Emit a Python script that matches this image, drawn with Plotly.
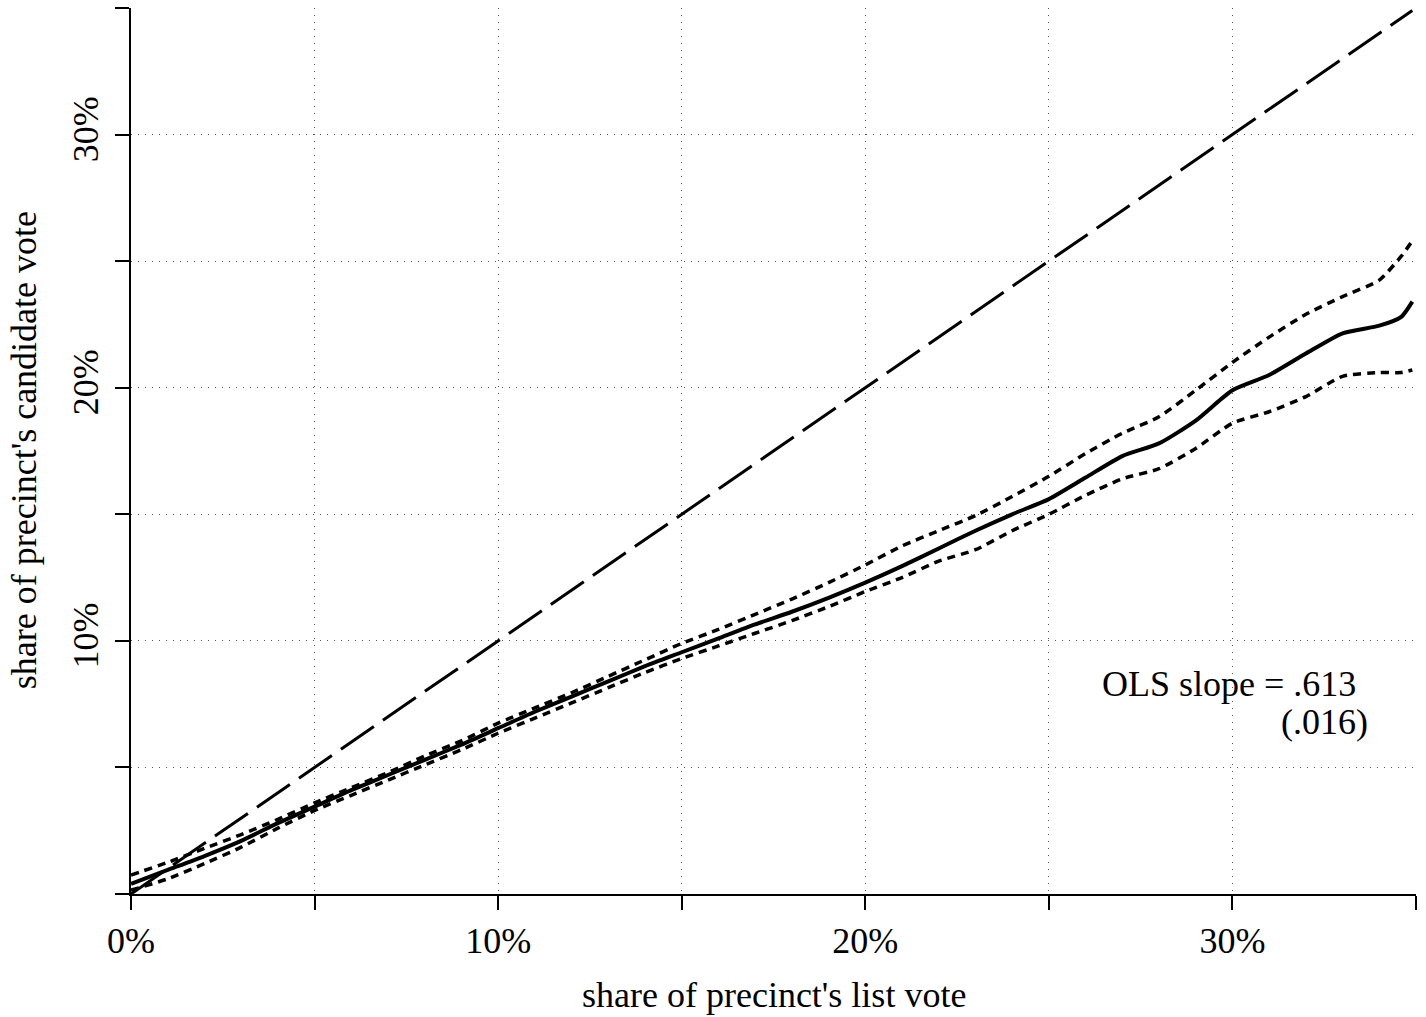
import plotly.graph_objects as go

# ---- data (percent units) ----
fit_x = [0, 1, 2, 3, 4, 5, 6, 7, 8, 9, 10, 11, 12, 13, 14, 15, 16, 17, 18, 19, 20,
         21, 22, 23, 24, 25, 26, 27, 28, 29, 30, 31, 32, 33, 34, 34.6, 34.9]
fit_y = [0.4, 0.95, 1.5, 2.1, 2.8, 3.45, 4.1, 4.7, 5.3, 5.9, 6.55, 7.2, 7.8, 8.4, 9.0,
         9.55, 10.1, 10.65, 11.15, 11.7, 12.3, 12.95, 13.65, 14.35, 15.0, 15.6, 16.45,
         17.3, 17.8, 18.7, 19.9, 20.5, 21.35, 22.15, 22.45, 22.8, 23.4]
upper_y = [0.75, 1.25, 1.8, 2.35, 2.95, 3.6, 4.2, 4.8, 5.45, 6.05, 6.75, 7.35, 7.95, 8.6,
           9.25, 9.9, 10.45, 11.05, 11.65, 12.3, 13.0, 13.75, 14.35, 14.95, 15.7, 16.5,
           17.4, 18.2, 18.85, 19.9, 21.0, 22.0, 22.9, 23.6, 24.25, 25.2, 25.8]
lower_y = [0.15, 0.6, 1.2, 1.85, 2.6, 3.3, 3.9, 4.5, 5.1, 5.7, 6.35, 6.95, 7.55, 8.15,
           8.75, 9.3, 9.8, 10.3, 10.8, 11.35, 11.95, 12.5, 13.15, 13.6, 14.35, 15.0,
           15.75, 16.4, 16.8, 17.6, 18.6, 19.05, 19.65, 20.45, 20.6, 20.6, 20.7]
diag_x = [0, 34.9]
diag_y = [0, 34.9]

tick_vals = [0, 5, 10, 15, 20, 25, 30, 35]
x_tick_text = ["0%", "", "10%", "", "20%", "", "30%", ""]
y_tick_text = ["", "", "10%", "", "20%", "", "30%", ""]

ols_text = "OLS slope = .613"
se_text = "(.016)"

FONT = "Liberation Serif, Times New Roman, serif"

fig = go.Figure()
fig.add_trace(go.Scatter(x=diag_x, y=diag_y, mode="lines",
                         line=dict(color="black", width=3, dash="40px,11px"),
                         hoverinfo="skip"))
fig.add_trace(go.Scatter(x=fit_x, y=upper_y, mode="lines",
                         line=dict(color="black", width=3.5, dash="8px,6px", shape="spline", smoothing=0.6)))
fig.add_trace(go.Scatter(x=fit_x, y=lower_y, mode="lines",
                         line=dict(color="black", width=3.5, dash="8px,6px", shape="spline", smoothing=0.6)))
fig.add_trace(go.Scatter(x=fit_x, y=fit_y, mode="lines",
                         line=dict(color="black", width=4, shape="spline", smoothing=0.6)))

axis_common = dict(
    range=[0, 35], tickmode="array", tickvals=tick_vals,
    showline=True, linecolor="black", linewidth=2,
    ticks="outside", ticklen=14, tickwidth=2, tickcolor="black",
    showgrid=True, gridcolor="#555555", gridwidth=1, griddash="1px,6px",
    zeroline=False, tickfont=dict(family=FONT, size=36, color="black"),
)
fig.update_xaxes(**axis_common, ticktext=x_tick_text, ticklabelstandoff=0)
fig.update_yaxes(**axis_common, ticktext=y_tick_text, tickangle=-90, ticklabelstandoff=3)

fig.add_annotation(x=33.41, y=8.3, xref="x", yref="y", text=ols_text, showarrow=False,
                   xanchor="right", yanchor="middle",
                   font=dict(family=FONT, size=36, color="black"))
fig.add_annotation(x=33.76, y=6.8, xref="x", yref="y", text=se_text, showarrow=False,
                   xanchor="right", yanchor="middle",
                   font=dict(family=FONT, size=36, color="black"))
fig.add_annotation(x=0.5, y=-0.114, xref="paper", yref="paper",
                   text="share of precinct's list vote", showarrow=False,
                   xanchor="center", yanchor="middle",
                   font=dict(family=FONT, size=36, color="black"))
fig.add_annotation(x=-0.0832, y=0.501, xref="paper", yref="paper",
                   text="share of precinct's candidate vote", showarrow=False,
                   textangle=-90, xanchor="center", yanchor="middle",
                   font=dict(family=FONT, size=36, color="black"))

fig.update_layout(
    width=1426, height=1017, showlegend=False,
    margin=dict(l=131, r=10, t=8, b=123),
    paper_bgcolor="white", plot_bgcolor="white",
)
# remove the default 8px page margin so the figure fills the window exactly
fig.write_html("out.html", config={"displayModeBar": False},
               post_script="document.body.style.margin='0';document.body.style.overflow='hidden';")
